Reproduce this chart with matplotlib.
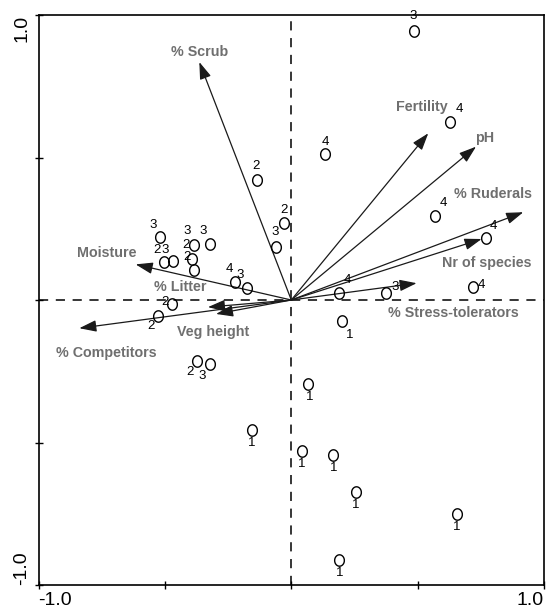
import matplotlib
matplotlib.use("Agg")
import matplotlib.pyplot as plt
import numpy as np
from matplotlib.path import Path

plt.rcParams['font.family'] = ['Liberation Sans', 'DejaVu Sans']

# ---- data: environmental vectors ----
var_names = ['% Scrub', 'Fertility', 'pH', '% Ruderals', 'Nr of species',
             '% Stress-tolerators', 'Moisture', '% Litter', 'Veg height',
             '% Competitors']
var_x = [-0.364, 0.542, 0.731, 0.918, 0.753, 0.496, -0.616, -0.330, -0.298, -0.839]
var_y = [0.835, 0.585, 0.538, 0.308, 0.214, 0.059, 0.125, -0.025, -0.049, -0.099]

# ---- data: sites (scores and group number) ----
site_x = [0.484, 0.628, 0.133, 0.568, 0.770, 0.720, 0.190, 0.374, 0.201,
          -0.137, -0.029, -0.061, -0.520, -0.504, -0.470, -0.385, -0.322,
          -0.391, -0.385, -0.223, -0.175, -0.474, -0.527, -0.375, -0.322,
          0.067, -0.157, 0.043, 0.166, 0.256, 0.654, 0.190]
site_y = [0.945, 0.626, 0.512, 0.295, 0.218, 0.045, 0.024, 0.024, -0.073,
          0.421, 0.269, 0.187, 0.220, 0.134, 0.138, 0.193, 0.196,
          0.143, 0.105, 0.064, 0.041, -0.014, -0.056, -0.213, -0.226,
          -0.296, -0.456, -0.529, -0.544, -0.673, -0.751, -0.912]
site_group = ['3', '4', '4', '4', '4', '4', '4', '3', '1',
              '2', '2', '3', '3', '2', '3', '3', '3',
              '2', '2', '4', '3', '2', '2', '2', '3',
              '1', '1', '1', '1', '1', '1', '1']

# ---- layout (not data): label placements ----
var_label_pos = [(-0.362, 0.870), (0.516, 0.678), (0.766, 0.567), (0.797, 0.372),
                 (0.775, 0.129), (0.641, -0.047), (-0.731, 0.164), (-0.441, 0.045),
                 (-0.309, -0.111), (-0.731, -0.187)]
site_label_off = [(0, 15), (9, 13), (0, 12), (9, 13), (7, 12), (8, 2), (8, 13), (9, 6), (8, -14),
                  (-1, 14), (0, 13), (-1, 15), (-7, 12), (-7, 12), (-7, 11), (-7, 14), (-7, 13),
                  (-6, 14), (-7, 13), (-6, 13), (-7, 13), (-7, 2), (-7, -10), (-7, -11), (-8, -12),
                  (1, -13), (0, -13), (0, -13), (0, -13), (0, -13), (0, -13), (0, -13)]

fig = plt.figure(figsize=(5.46, 6.13), dpi=100)
ax = fig.add_axes([38.6 / 546, 1 - 585 / 613, (544 - 38.6) / 546, (585 - 15) / 613])
ax.set_xlim(-1, 1)
ax.set_ylim(-1, 1)

ax.axhline(0, color='black', lw=1.1, ls=(0, (6, 5)), zorder=1)
ax.axvline(0, color='black', lw=1.1, ls=(0, (6, 5)), zorder=1)

label_color = '#6f6f6f'
for name, vx, vy, (lx, ly) in zip(var_names, var_x, var_y, var_label_pos):
    ax.annotate('', xy=(vx, vy), xytext=(0, 0),
                arrowprops=dict(arrowstyle='-|>,head_length=0.65,head_width=0.22',
                                mutation_scale=16, color='#1a1a1a', lw=0.9,
                                shrinkA=0, shrinkB=0), zorder=2)
    ax.text(lx, ly, name, ha='center', va='center', fontsize=10.3,
            fontweight='bold', color=label_color, zorder=3)

# slightly tall open ellipse marker
t = np.linspace(0, 2 * np.pi, 60)
ell = Path(np.column_stack([0.85 * np.cos(t), np.sin(t)]))
ax.plot(site_x, site_y, ls='none', marker=ell, markersize=8.2,
        markerfacecolor='none', markeredgecolor='black', markeredgewidth=1.0,
        zorder=4)
for sx, sy, g, (dx, dy) in zip(site_x, site_y, site_group, site_label_off):
    ax.annotate(g, xy=(sx, sy), xytext=(dx, dy), textcoords='offset pixels',
                ha='center', va='center', fontsize=9.5, color='black', zorder=5)

ax.set_xticks([-1, -0.5, 0, 0.5, 1], ['-1.0', '', '', '', '1.0'])
ax.set_yticks([-1, -0.5, 0, 0.5, 1], ['-1.0', '', '', '', '1.0'])
ax.tick_params(direction='inout', length=6, width=1.0, labelsize=14)
ax.tick_params(axis='x', pad=2)
ax.tick_params(axis='y', pad=3)
xl = ax.get_xticklabels()
xl[0].set_ha('left')
xl[-1].set_ha('right')
yl = ax.get_yticklabels()
for tl in yl:
    tl.set_rotation(90)
yl[0].set_va('bottom')
yl[-1].set_va('top')

for s in ax.spines.values():
    s.set_linewidth(1.2)

fig.savefig('out.png', dpi=100)
